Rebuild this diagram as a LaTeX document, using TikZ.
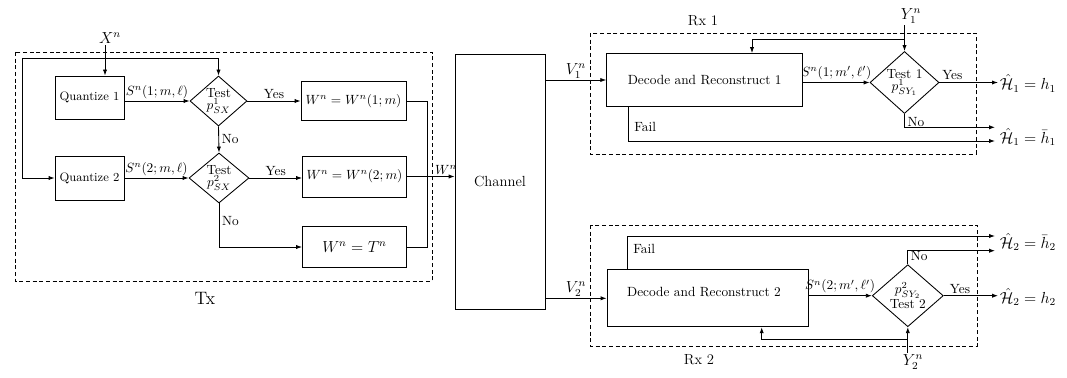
\documentclass[tikz,border=0pt]{standalone}
\usetikzlibrary{shapes.geometric,arrows.meta,calc}
\newdimen\px \px=0.75pt
\begin{document}
\begin{tikzpicture}[x=0.75pt,y=-0.75pt, line width=0.65pt,
  box/.style={draw, rectangle, inner sep=0pt},
  dia/.style={draw, diamond, inner sep=0pt, align=center, font=\normalsize},
  arr/.style={-{Latex[length=4.5pt,width=3.2pt]}},
  grp/.style={draw, dash pattern=on 3pt off 2pt, line width=0.55pt},
  lbl/.style={inner sep=1.5pt, font=\normalsize},
  big/.style={inner sep=1pt, font=\large}]
\useasboundingbox (0,0) rectangle (1067,378);

% group frames
\draw[grp] (15,52) rectangle (432,281);
\draw[grp] (590,33) rectangle (976,154);
\draw[grp] (590,225) rectangle (977,346);
\node[font=\fontsize{13.5}{15}\selectfont] (tx) at (205,298) {Tx};
\node[font=\fontsize{11}{13}\selectfont] (rx1) at (703,21) {Rx 1};
\node[font=\fontsize{11}{13}\selectfont] (rx2) at (699,360) {Rx 2};

% transmitter
\node[box, minimum width=69\px, minimum height=43\px, font=\fontsize{9.2}{11}\selectfont] (q1) at (89.5,97.5) {Quantize 1};
\node[box, minimum width=69\px, minimum height=44\px, font=\fontsize{9.2}{11}\selectfont] (q2) at (89.5,178) {Quantize 2};
\node[dia, minimum width=57\px, minimum height=50\px] (t1) at (218.5,101) {Test\\[-3pt]$p^1_{SX}$};
\node[dia, minimum width=60\px, minimum height=50\px] (t2) at (219,178) {Test\\[-3pt]$p^2_{SX}$};
\node[box, minimum width=105\px, minimum height=39\px] (w1) at (353.5,101) {$W^n=W^n(1;m)$};
\node[box, minimum width=104\px, minimum height=41\px] (w2) at (354.5,176.5) {$W^n=W^n(2;m)$};
\node[box, minimum width=104\px, minimum height=41\px, font=\large] (w3) at (354.5,247) {$W^n=T^n$};
\node[big] (xn) at (110,38) {$X^n$};

\coordinate (j1) at (105,58);
\coordinate (jl) at (22,58);
\coordinate (jr) at (427,101);
\draw[arr] (xn.south -| j1) -- (j1 |- q1.north);
\draw[arr] (jl) -- (t1.north |- jl) -- (t1.north);
\draw[arr] (jl) |- (q2.west);
\draw[arr] (q1.east |- t1.west) -- node[lbl, above] {$S^n(1;m,\ell)$} (t1.west);
\draw[arr] (q2.east |- t2.west) -- node[lbl, above] {$S^n(2;m,\ell)$} (t2.west);
\draw[arr] (t1.east) -- node[lbl, above] {Yes} (w1.west |- t1.east);
\draw[arr] (t2.east) -- node[lbl, above] {Yes} (w2.west |- t2.east);
\draw[arr] (t1.south) -- node[lbl, right, inner sep=2pt] {No} (t2.north);
\draw[arr] (t2.south) |- node[lbl, pos=0.2, right, inner sep=2pt] {No} (w3.west);
\draw (w1.east) -- (jr) |- (w3.east);

% channel
\node[box, minimum width=90\px, minimum height=255\px, font=\fontsize{11}{13}\selectfont] (ch) at (500,181.7) {Channel};
\draw[arr] (w2.east) -- node[lbl, above, pos=0.82] {$W^n$} (ch.west |- w2.east);

% receiver 1
\node[box, minimum width=196\px, minimum height=53\px] (d1) at (704.7,80) {Decode and Reconstruct 1};
\node[dia, minimum width=69\px, minimum height=62\px] (r1) at (904.5,82.5) {Test 1\\[-3pt]$p^1_{SY_1}$};
\node[big, anchor=west] (o1) at (998,83.5) {$\hat{\mathcal{H}}_1=h_1$};
\node[big, anchor=west] (o2) at (998,137) {$\hat{\mathcal{H}}_1=\bar{h}_1$};
\node[big] (y1) at (911,16) {$Y_1^n$};
\coordinate (e1) at (995,127.3);
\coordinate (e2) at (995,141);
\coordinate (j2) at (904.5,39);
\coordinate (j2b) at (752,39);
\draw[arr] (ch.east |- d1.west) -- node[big, above] {$V_1^n$} (d1.west);
\draw[arr] (d1.east |- r1.west) -- node[lbl, above] {$S^n(1;m',\ell')$} (r1.west);
\draw[arr] (r1.north |- y1.south) -- (r1.north);
\draw[arr] (j2) -- (j2b) -- (j2b |- d1.north);
\draw[arr] (r1.east) -- node[lbl, above, pos=0.22] {Yes} (o1.west |- r1.east);
\draw[arr] (r1.south) |- node[lbl, pos=0.3, right, inner sep=2pt] {No} (e1);
\draw[arr] ($(d1.south west)+(22.3,0)$) |- node[lbl, pos=0.3, right, inner sep=4pt] {Fail} (e2);

% receiver 2
\node[box, minimum width=201\px, minimum height=57\px] (d2) at (707.5,298.3) {};
\node[inner sep=0pt] (d2t) at (704,291.7) {Decode and Reconstruct 2};
\node[dia, minimum width=71\px, minimum height=62\px] (r2) at (907.8,295.7) {$p^2_{SY_2}$\\[-1pt]Test 2};
\node[big, anchor=west] (o3) at (998,242) {$\hat{\mathcal{H}}_2=\bar{h}_2$};
\node[big, anchor=west] (o4) at (998,296.7) {$\hat{\mathcal{H}}_2=h_2$};
\node[big] (y2) at (913,362) {$Y_2^n$};
\coordinate (e3) at (995,236);
\coordinate (e4) at (995,250.7);
\coordinate (j3) at (907.8,339.3);
\coordinate (j3b) at (761.7,339.3);
\draw[arr] (ch.east |- d2.west) -- node[big, above] {$V_2^n$} (d2.west);
\draw[arr] (d2.east |- r2.west) -- node[lbl, above] {$S^n(2;m',\ell')$} (r2.west);
\draw[arr] (r2.south |- y2.north) -- (r2.south);
\draw[arr] (j3) -- (j3b) -- (j3b |- d2.south);
\draw[arr] (r2.east) -- node[lbl, above, pos=0.3] {Yes} (o4.west |- r2.east);
\draw[arr] (r2.north) |- node[lbl, pos=0.3, right, inner sep=2pt] {No} (e4);
\draw[arr] ($(d2.north west)+(21,0)$) |- node[lbl, pos=0.3, right, inner sep=4pt] {Fail} (e3);
\end{tikzpicture}
\end{document}
